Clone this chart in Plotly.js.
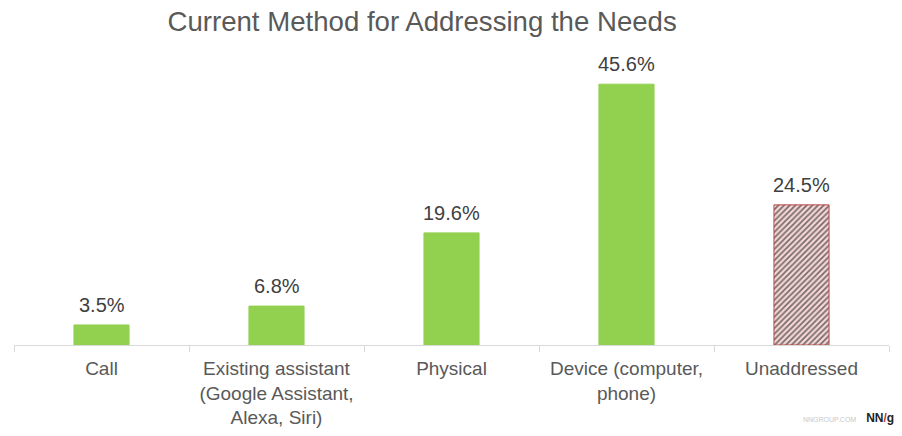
<!DOCTYPE html>
<html>
<head>
<meta charset="utf-8">
<script src="https://cdn.plot.ly/plotly-3.0.1.min.js"></script>
<style>html,body{margin:0;padding:0;background:#fff;}#chart{width:902px;height:436px;}</style>
</head>
<body>
<div id="chart"></div>
<script>
const categories = ["Call", "Existing assistant<br>(Google Assistant,<br>Alexa, Siri)", "Physical", "Device (computer,<br>phone)", "Unaddressed"];
const values = [3.5, 6.8, 19.6, 45.6, 24.5];
const chartTitle = "Current Method for Addressing the Needs";

const FONT = "Liberation Sans, Arial, sans-serif";
const green = "#92d050";
const fills = values.map((v, i) => i === 4 ? "#f6d4d4" : green);
const shapes = values.map((v, i) => i === 4 ? "/" : "");
const fgColors = values.map((v, i) => i === 4 ? "#e25c5c" : green);
const lineColors = values.map((v, i) => i === 4 ? "#b94a48" : green);

const trace = {
  type: "bar",
  x: categories,
  y: values,
  marker: {
    color: fills,
    line: { color: lineColors, width: 1 },
    pattern: { shape: shapes, fgcolor: fgColors, fgopacity: 0.75, size: 4, solidity: 0.4, fillmode: "overlay" }
  },
  hoverinfo: "none"
};

const labelAnnotations = values.map((v, i) => ({
  x: categories[i], y: v, xref: "x", yref: "y",
  text: v.toFixed(1) + "%",
  showarrow: false, yanchor: "bottom", yshift: 7,
  font: { family: FONT, size: 20, color: "#404040" }
}));

const layout = {
  width: 902, height: 436,
  margin: { l: 14, r: 13, t: 59, b: 91 },
  paper_bgcolor: "#ffffff",
  plot_bgcolor: "#ffffff",
  showlegend: false,
  bargap: 0.685,
  font: { family: FONT, color: "#595959" },
  title: {
    text: chartTitle,
    font: { family: FONT, size: 27.6, color: "#595959" },
    x: 0.468, xref: "container", xanchor: "center",
    y: 0.95, yref: "container", yanchor: "middle"
  },
  xaxis: {
    type: "category",
    showline: true, linecolor: "#d9d9d9", linewidth: 1,
    ticks: "outside", tickson: "boundaries", ticklen: 6, tickcolor: "#d9d9d9",
    ticklabelstandoff: 6,
    tickfont: { family: FONT, size: 19, color: "#595959" },
    showgrid: false, zeroline: false
  },
  yaxis: {
    range: [0, 50], visible: false, showgrid: false, zeroline: false
  },
  annotations: labelAnnotations.concat([{
    xref: "paper", yref: "paper", x: 1.008, y: -0.255, xanchor: "right", yanchor: "middle",
    showarrow: false,
    text: "<span style='font-size:7px;color:#c8c8c8'>NNGROUP.COM</span>   <b><span style='color:#222'>NN</span><span style='color:#c0392b'>/</span><span style='color:#222'>g</span></b>",
    font: { family: FONT, size: 12, color: "#222" }
  }])
};

Plotly.newPlot("chart", [trace], layout, { displayModeBar: false, staticPlot: true });
</script>
</body>
</html>
